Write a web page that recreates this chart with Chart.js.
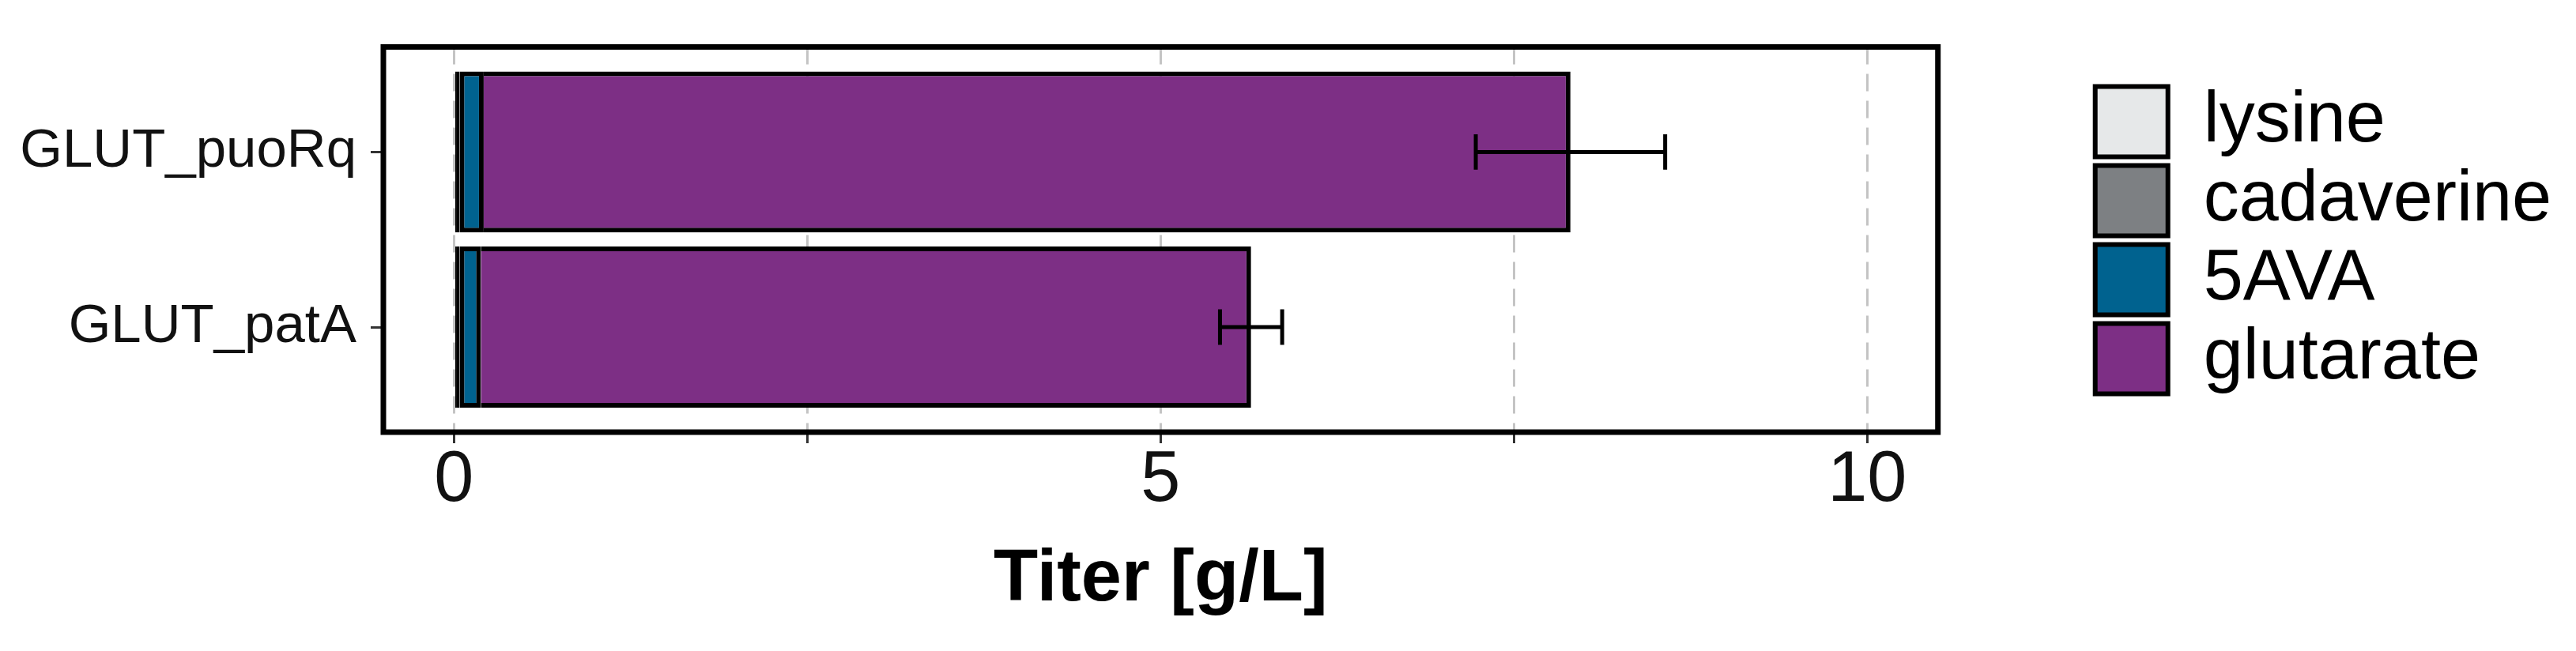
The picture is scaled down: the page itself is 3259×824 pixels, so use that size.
<!DOCTYPE html>
<html>
<head>
<meta charset="utf-8">
<script src="https://cdn.jsdelivr.net/npm/chart.js@4.4.1/dist/chart.umd.min.js"></script>
<style>
  html, body { margin: 0; padding: 0; background: #fff; }
  #wrap { width: 3259px; height: 824px; position: relative; }
</style>
</head>
<body>
<div id="wrap"><canvas id="titerChart"></canvas></div>
<script>
// data (g/L)
var categories = ['GLUT_puoRq', 'GLUT_patA'];
var lysine = [0.02, 0.02];
var cadaverine = [0.02, 0.02];
var ava5 = [0.17, 0.15];
var glutarate = [7.69, 5.45];
var errSd = [0.67, 0.22];
var xTicks = [0, 2.5, 5, 7.5, 10];
var xTickLabels = ['0', '', '5', '', '10'];

Chart.defaults.font.family = "'Liberation Sans', Arial, sans-serif";
Chart.defaults.color = '#000';

function toPoints(arr) {
  return arr.map(function (v, i) { return { x: v, y: i + 1 }; });
}

function makeSet(label, values, color, skip) {
  return {
    label: label,
    data: toPoints(values),
    backgroundColor: color,
    borderColor: '#000',
    borderWidth: 6,
    borderSkipped: skip,
    yAxisID: 'y',
    xAxisID: 'x'
  };
}

// error bars around the stacked total
var errorBars = {
  id: 'errorBars',
  afterDatasetsDraw: function (chart) {
    var ctx = chart.ctx;
    var xs = chart.scales.x, ys = chart.scales.y;
    var lastMeta = chart.getDatasetMeta(chart.data.datasets.length - 1);
    ctx.save();
    ctx.strokeStyle = '#000';
    ctx.lineWidth = 5;
    categories.forEach(function (c, i) {
      var total = lysine[i] + cadaverine[i] + ava5[i] + glutarate[i];
      var y = ys.getPixelForValue(i + 1);
      var x1 = xs.getPixelForValue(total - errSd[i]);
      var x2 = xs.getPixelForValue(total + errSd[i]);
      var half = lastMeta.data[i].height * 0.11;
      ctx.beginPath();
      ctx.moveTo(x1, y); ctx.lineTo(x2, y);
      ctx.moveTo(x1, y - half); ctx.lineTo(x1, y + half);
      ctx.moveTo(x2, y - half); ctx.lineTo(x2, y + half);
      ctx.stroke();
    });
    ctx.restore();
  }
};

// black frame round the panel
var panelBorder = {
  id: 'panelBorder',
  afterDatasetsDraw: function (chart) {
    var a = chart.chartArea;
    var ctx = chart.ctx;
    ctx.save();
    ctx.strokeStyle = '#000';
    ctx.lineWidth = 7;
    ctx.strokeRect(a.left, a.top, a.right - a.left, a.bottom - a.top);
    ctx.restore();
  }
};

var ctx = document.getElementById('titerChart').getContext('2d');
var titerChart = new Chart(ctx, {
  type: 'bar',
  data: {
    datasets: [
      makeSet('lysine', lysine, '#E6E8E9', false),
      makeSet('cadaverine', cadaverine, '#7D8083', false),
      makeSet('5AVA', ava5, '#00628F', false),
      makeSet('glutarate', glutarate, '#7D2F85', 'left')
    ]
  },
  options: {
    indexAxis: 'y',
    responsive: true,
    maintainAspectRatio: false,
    animation: false,
    devicePixelRatio: 1,
    layout: { padding: { left: 0, right: 21, top: 33, bottom: 0 } },
    datasets: {
      bar: { barPercentage: 0.92, categoryPercentage: 1 }
    },
    scales: {
      x: {
        type: 'linear',
        stacked: true,
        min: -0.5,
        max: 10.5,
        afterBuildTicks: function (axis) {
          axis.ticks = xTicks.map(function (v) { return { value: v }; });
        },
        afterFit: function (axis) { axis.height = 277; },
        ticks: {
          autoSkip: false,
          maxRotation: 0,
          padding: 3,
          color: '#111',
          font: { size: 90, lineHeight: 1 },
          callback: function (v, i) { return xTickLabels[i]; }
        },
        grid: {
          color: '#c4c4c4',
          lineWidth: 3,
          drawTicks: true,
          tickLength: 14,
          tickWidth: 3,
          tickColor: '#333',
          tickBorderDash: []
        },
        border: { display: false, dash: [22, 12] },
        title: {
          display: true,
          text: 'Titer [g/L]',
          color: '#000',
          font: { size: 92, weight: 'bold', lineHeight: 1 },
          padding: { top: 0, bottom: 43 }
        }
      },
      y: {
        type: 'linear',
        stacked: true,
        reverse: true,
        offset: false,
        min: 0.4,
        max: 2.6,
        afterBuildTicks: function (axis) {
          axis.ticks = categories.map(function (c, i) { return { value: i + 1 }; });
        },
        afterFit: function (axis) { axis.width = 485; },
        ticks: {
          padding: 18,
          color: '#111',
          font: { size: 69 },
          callback: function (v) { return categories[v - 1]; }
        },
        grid: {
          offset: false,
          drawOnChartArea: false,
          drawTicks: true,
          tickLength: 16,
          tickWidth: 3,
          tickColor: '#333'
        },
        border: { display: false }
      },
      gap: {
        type: 'linear',
        position: 'right',
        display: true,
        ticks: { display: false },
        grid: { display: false, drawTicks: false },
        border: { display: false },
        afterFit: function (axis) { axis.width = 189; }
      }
    },
    plugins: {
      legend: {
        display: true,
        position: 'right',
        align: 'start',
        fullSize: false,
        maxWidth: 640,
        title: {
          display: true,
          text: '',
          font: { size: 10, lineHeight: 1 },
          padding: { top: 29.5, bottom: 0 }
        },
        labels: {
          boxWidth: 92,
          boxHeight: 89,
          padding: 10,
          color: '#000',
          font: { size: 90 }
        }
      },
      tooltip: { enabled: false }
    }
  },
  plugins: [errorBars, panelBorder]
});
</script>
</body>
</html>
